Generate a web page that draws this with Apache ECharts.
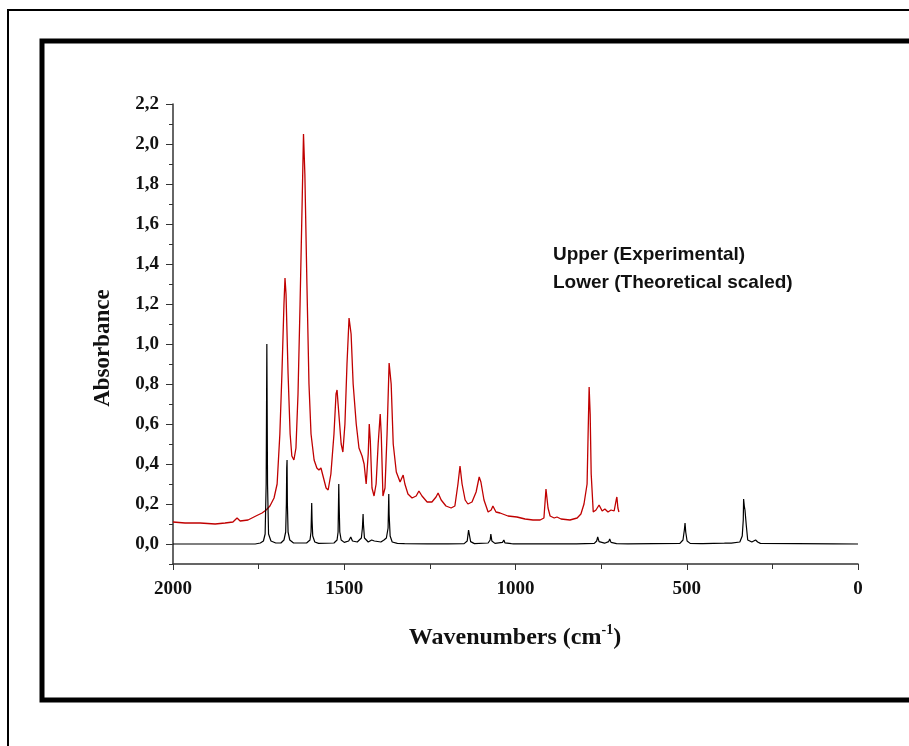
<!DOCTYPE html>
<html>
<head>
<meta charset="utf-8">
<title>IR spectrum</title>
<script src="https://cdn.jsdelivr.net/npm/echarts@6/dist/echarts.min.js"></script>
<style>
  html, body { margin: 0; padding: 0; background: #fff; }
  #main { width: 909px; height: 746px; }
</style>
</head>
<body>
<div id="main"></div>
<script>
// [wavenumber, absorbance]
var experimental = [
  [2000, 0.11], [1965, 0.105], [1921, 0.105], [1877, 0.10], [1848, 0.105], [1825, 0.11],
  [1813, 0.13], [1804, 0.115], [1781, 0.12], [1758, 0.14], [1740, 0.155], [1728, 0.17],
  [1717, 0.19], [1705, 0.23], [1696, 0.30], [1688, 0.55], [1682, 0.85], [1676, 1.20],
  [1673, 1.33], [1670, 1.25], [1664, 0.85], [1658, 0.55], [1653, 0.44], [1647, 0.42],
  [1641, 0.48], [1635, 0.75], [1629, 1.20], [1623, 1.70], [1619, 2.05], [1615, 1.85],
  [1609, 1.30], [1603, 0.80], [1597, 0.55], [1588, 0.42], [1580, 0.38], [1574, 0.37],
  [1568, 0.38], [1562, 0.34], [1553, 0.28], [1547, 0.27], [1539, 0.35], [1530, 0.55],
  [1524, 0.75], [1521, 0.77], [1518, 0.70], [1509, 0.50], [1504, 0.46], [1498, 0.60],
  [1492, 0.90], [1486, 1.13], [1480, 1.05], [1474, 0.80], [1465, 0.60], [1457, 0.48],
  [1448, 0.44], [1442, 0.40], [1436, 0.30], [1430, 0.45], [1427, 0.60], [1424, 0.52],
  [1419, 0.28], [1413, 0.24], [1407, 0.30], [1401, 0.50], [1395, 0.65], [1392, 0.55],
  [1387, 0.24], [1381, 0.28], [1375, 0.55], [1369, 0.905], [1363, 0.80], [1357, 0.50],
  [1348, 0.36], [1337, 0.31], [1328, 0.345], [1323, 0.30], [1314, 0.25], [1302, 0.23],
  [1290, 0.24], [1282, 0.265], [1273, 0.24], [1258, 0.21], [1244, 0.21], [1232, 0.235],
  [1226, 0.255], [1217, 0.22], [1203, 0.19], [1188, 0.18], [1177, 0.19], [1168, 0.30],
  [1162, 0.39], [1156, 0.30], [1147, 0.22], [1139, 0.20], [1127, 0.21], [1115, 0.26],
  [1106, 0.335], [1101, 0.31], [1092, 0.22], [1080, 0.16], [1071, 0.17], [1066, 0.19],
  [1057, 0.16], [1045, 0.155], [1022, 0.14], [996, 0.135], [972, 0.125], [949, 0.12],
  [928, 0.12], [917, 0.13], [911, 0.275], [905, 0.18], [899, 0.14], [887, 0.13],
  [879, 0.135], [867, 0.125], [841, 0.12], [820, 0.13], [809, 0.15], [800, 0.20],
  [791, 0.30], [788, 0.55], [785, 0.785], [782, 0.65], [779, 0.35], [773, 0.16],
  [765, 0.17], [756, 0.195], [747, 0.165], [739, 0.175], [730, 0.16], [721, 0.17],
  [712, 0.165], [706, 0.22], [704, 0.235], [701, 0.18], [698, 0.16]
];

var theoretical = [
  [2000, 0], [1760, 0], [1745, 0.005], [1736, 0.015], [1731, 0.05], [1728, 0.3],
  [1727, 0.65], [1726, 1.0], [1725, 0.65], [1724, 0.3], [1721, 0.05], [1714, 0.015],
  [1700, 0.005], [1685, 0.005], [1676, 0.02], [1671, 0.06], [1669, 0.2], [1668, 0.38],
  [1667, 0.42], [1666, 0.2], [1664, 0.06], [1659, 0.02], [1648, 0.005], [1610, 0.005],
  [1600, 0.02], [1597, 0.06], [1595, 0.205], [1594, 0.12], [1592, 0.04], [1586, 0.01],
  [1575, 0.003], [1530, 0.005], [1521, 0.02], [1518, 0.06], [1516, 0.3], [1515, 0.2],
  [1513, 0.06], [1509, 0.02], [1500, 0.008], [1487, 0.015], [1481, 0.035], [1476, 0.015],
  [1462, 0.01], [1450, 0.03], [1447, 0.08], [1445, 0.15], [1444, 0.1], [1441, 0.03],
  [1430, 0.01], [1420, 0.02], [1416, 0.03], [1412, 0.015], [1393, 0.01], [1388, 0.02],
  [1384, 0.02], [1377, 0.03], [1372, 0.08], [1370, 0.25], [1369, 0.15], [1366, 0.04],
  [1360, 0.01], [1345, 0.003], [1324, 0.002], [1322, 0.006], [1320, 0.001], [1257, 0.001],
  [1255, 0.006], [1253, 0.001], [1197, 0.001], [1195, 0.006], [1193, 0.001], [1150, 0.002],
  [1141, 0.015], [1137, 0.07], [1135, 0.05], [1131, 0.012], [1120, 0.002], [1080, 0.005],
  [1074, 0.02], [1072, 0.05], [1069, 0.015], [1060, 0.003], [1038, 0.008], [1034, 0.02],
  [1031, 0.006], [1012, 0.002], [1009, 0.006], [1006, 0.001], [915, 0.001], [913, 0.006],
  [911, 0.001], [822, 0.001], [820, 0.005], [818, 0.001], [770, 0.003], [763, 0.015],
  [760, 0.035], [756, 0.012], [740, 0.004], [728, 0.012], [725, 0.025], [721, 0.008],
  [705, 0.002], [672, 0.001], [670, 0.006], [668, 0.001], [520, 0.003], [511, 0.02],
  [507, 0.07], [505, 0.105], [503, 0.06], [499, 0.015], [490, 0.003], [459, 0.002],
  [457, 0.01], [453, 0.002], [390, 0.004], [380, 0.005], [370, 0.004], [345, 0.01],
  [338, 0.04], [335, 0.12], [334, 0.225], [332, 0.19], [330, 0.17], [328, 0.16],
  [326, 0.09], [322, 0.02], [310, 0.01], [299, 0.02], [296, 0.03], [293, 0.01],
  [285, 0.003], [72, 0.001], [70, 0.005], [68, 0.001], [0, 0]
];

var legendLines = ['Upper (Experimental)', 'Lower (Theoretical scaled)'];

var serif = '"Liberation Serif", "Times New Roman", serif';
var sans = '"Liberation Sans", Arial, sans-serif';
var axisColor = '#333';

var chart = echarts.init(document.getElementById('main'));

chart.setOption({
  animation: false,
  backgroundColor: '#fff',
  grid: [
    { left: 173, right: 51, top: 104, bottom: 182 },
    // second grid only carries the labelled major ticks (0,0 .. 2,2)
    { left: 173, right: 51, top: 104, height: 440 }
  ],
  xAxis: [{
    type: 'value', gridIndex: 0, inverse: true, position: 'bottom',
    min: 0, max: 2000, interval: 500,
    axisLine: { onZero: false, lineStyle: { color: axisColor, width: 1.5 } },
    axisTick: { length: 6, lineStyle: { color: axisColor } },
    minorTick: { show: true, splitNumber: 2, length: 5, lineStyle: { color: axisColor } },
    splitLine: { show: false },
    axisLabel: {
      margin: 16, color: '#111', fontFamily: serif, fontWeight: 'bold', fontSize: 19,
      formatter: function (v) { return String(v); }
    }
  }, {
    type: 'value', gridIndex: 1, inverse: true, min: 0, max: 2000, show: false
  }],
  yAxis: [{
    type: 'value', gridIndex: 0, position: 'left',
    min: -0.1, max: 2.2, interval: 0.1,
    axisLine: { show: true, onZero: false, lineStyle: { color: axisColor, width: 1.5 } },
    axisTick: { show: true, length: 4, lineStyle: { color: axisColor } },
    splitLine: { show: false },
    axisLabel: { show: false }
  }, {
    type: 'value', gridIndex: 1, position: 'left',
    min: 0, max: 2.2, interval: 0.2,
    axisLine: { show: false, onZero: false },
    axisTick: { show: true, length: 7, lineStyle: { color: axisColor } },
    splitLine: { show: false },
    axisLabel: {
      margin: 14, color: '#111', fontFamily: serif, fontWeight: 'bold', fontSize: 19,
      formatter: function (v) { return v.toFixed(1).replace('.', ','); }
    }
  }],
  series: [{
    name: 'Upper (Experimental)',
    type: 'line', xAxisIndex: 0, yAxisIndex: 0,
    data: experimental, showSymbol: false, silent: true,
    lineStyle: { color: '#c00000', width: 1.3 }
  }, {
    name: 'Lower (Theoretical scaled)',
    type: 'line', xAxisIndex: 0, yAxisIndex: 0,
    data: theoretical, showSymbol: false, silent: true,
    lineStyle: { color: '#000', width: 1.2 }
  }],
  graphic: [
    { type: 'rect', shape: { x: 8, y: 10, width: 960, height: 800 },
      style: { fill: 'none', stroke: '#000', lineWidth: 2 } },
    { type: 'rect', shape: { x: 42, y: 41, width: 920, height: 659 },
      style: { fill: 'none', stroke: '#000', lineWidth: 5 } },
    { type: 'text', x: 103, y: 348, rotation: Math.PI / 2,
      style: { text: 'Absorbance', font: 'bold 23px ' + serif, fill: '#111',
               textAlign: 'center', textVerticalAlign: 'middle' } },
    { type: 'text', x: 515, y: 638,
      style: {
        text: '{a|Wavenumbers (cm}{s|-1}{a|)}',
        textAlign: 'center', textVerticalAlign: 'middle',
        rich: {
          a: { font: 'bold 24px ' + serif, fill: '#111', lineHeight: 30 },
          s: { font: 'bold 14px ' + serif, fill: '#111', verticalAlign: 'top', lineHeight: 15 }
        }
      } },
    { type: 'text', x: 553, y: 255,
      style: { text: legendLines[0], font: 'bold 19px ' + sans, fill: '#111',
               textAlign: 'left', textVerticalAlign: 'middle' } },
    { type: 'text', x: 553, y: 283,
      style: { text: legendLines[1], font: 'bold 19px ' + sans, fill: '#111',
               textAlign: 'left', textVerticalAlign: 'middle' } }
  ]
});
</script>
</body>
</html>
